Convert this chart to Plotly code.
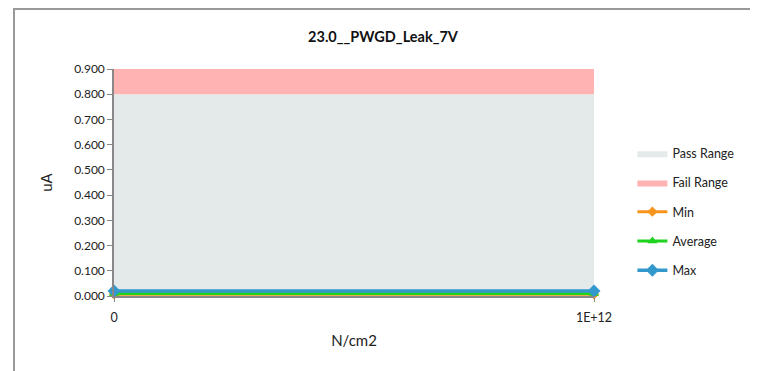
import plotly.graph_objects as go

# categories on the x axis (fluence)
categories = ["0", "1E+12"]

# limit bands
pass_range = [0.8, 0.8]
fail_range = [0.9, 0.9]

# measured leakage (uA)
min_vals = [0.007, 0.007]
avg_vals = [0.010, 0.010]
max_vals = [0.020, 0.020]

FONT = "Lato, Liberation Sans, sans-serif"

fig = go.Figure()

# bands first so the lines sit on top
fig.add_trace(go.Scatter(x=categories, y=pass_range, name="Pass Range", mode="lines",
                         line=dict(width=0, color="#E4EAEA"), fill="tozeroy",
                         fillcolor="#E4EAEA", legendgroup="a"))
fig.add_trace(go.Scatter(x=categories, y=fail_range, name="Fail Range", mode="lines",
                         line=dict(width=0, color="#FFB3B3"), fill="tonexty",
                         fillcolor="#FFB3B3", legendgroup="b"))

fig.add_trace(go.Scatter(x=categories, y=min_vals, name="Min", mode="lines+markers",
                         line=dict(color="#F7941D", width=3),
                         marker=dict(symbol="diamond", size=8, color="#F7941D"),
                         cliponaxis=False, legendgroup="c"))
fig.add_trace(go.Scatter(x=categories, y=avg_vals, name="Average", mode="lines+markers",
                         line=dict(color="#1FD31F", width=3),
                         marker=dict(symbol="triangle-up", size=9, color="#1FD31F"),
                         cliponaxis=False, legendgroup="d"))
fig.add_trace(go.Scatter(x=categories, y=max_vals, name="Max", mode="lines+markers",
                         line=dict(color="#3399CC", width=3.5),
                         marker=dict(symbol="diamond", size=10, color="#3399CC"),
                         cliponaxis=False, legendgroup="e"))

# page has an 8px body margin, so the figure is drawn 8px in from the window edge
fig.update_layout(
    width=750, height=363,
    margin=dict(l=106, r=164, t=61, b=75),
    paper_bgcolor="white", plot_bgcolor="white",
    font=dict(family=FONT, size=12, color="#222"),
    title=dict(text="<b>23.0__PWGD_Leak_7V</b>", x=0.5, xanchor="center",
               y=1 - 29 / 363, yanchor="middle", font=dict(size=14.5, color="#111")),
    legend=dict(x=1.08, xanchor="left", y=0.37, yanchor="middle",
                font=dict(size=12.5, color="#222"), tracegroupgap=10,
                bgcolor="rgba(0,0,0,0)", itemwidth=30),
    showlegend=True,
)

fig.update_xaxes(
    type="category", range=[0, 1], showgrid=False,
    showline=True, linecolor="#888", linewidth=2,
    ticks="outside", ticklen=4, tickcolor="#888",
    tickfont=dict(size=12.5, color="#222"), ticklabelstandoff=5,
    title=dict(text="N/cm2", font=dict(size=15, color="#222"), standoff=11),
)
fig.update_yaxes(
    range=[0, 0.9], dtick=0.1, tickformat=".3f", showgrid=False, zeroline=False,
    showline=True, linecolor="#888", linewidth=1.5,
    ticks="outside", ticklen=5, tickcolor="#888",
    tickfont=dict(size=12, color="#222"),
    title=dict(text="uA", font=dict(size=15, color="#222"), standoff=18),
)

# chart frame (top and left edges visible in the crop)
fig.add_shape(type="rect", xref="paper", yref="paper",
              x0=(6 - 106) / 480, x1=1.4, y0=-0.5, y1=(288 - 1) / 227,
              line=dict(color="#999", width=2), fillcolor="rgba(0,0,0,0)", layer="below")

fig.write_html("out.html")
